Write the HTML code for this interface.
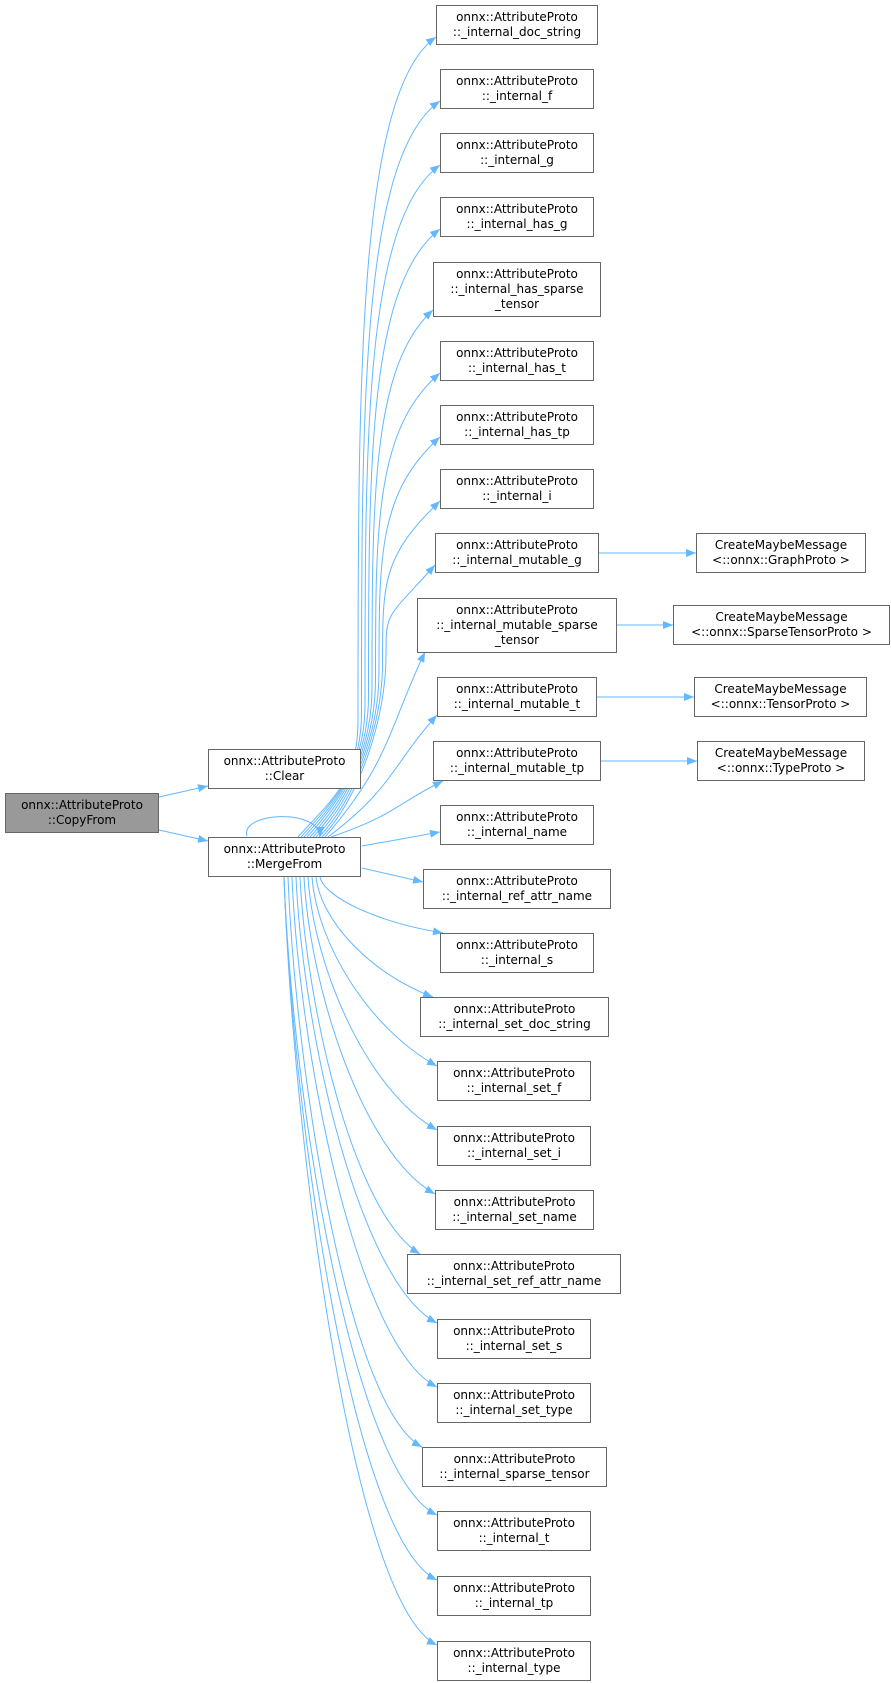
<!DOCTYPE html>
<html><head><meta charset="utf-8"><style>
body{margin:0;background:#fff;}
#c{position:relative;width:891px;height:1683px;overflow:hidden;background:#fff;}
.n{position:absolute;box-sizing:border-box;border:1px solid #666;background:#fff;display:flex;flex-direction:column;justify-content:center;align-items:center;font-family:"DejaVu Sans","Liberation Sans",sans-serif;font-size:12px;line-height:15px;color:#000;text-align:center;white-space:nowrap;}
.g{background:#999;}
svg{position:absolute;left:0;top:0;}
</style></head><body><div id="c">
<svg id="s" width="891" height="1683" viewBox="0 0 891 1683">
<defs><marker id="a" markerWidth="10" markerHeight="8" refX="10" refY="4" orient="auto" markerUnits="userSpaceOnUse"><path d="M0,0 L10,4 L0,8 z" fill="#63b8ff"/></marker></defs>
<g id="e" fill="none" stroke="#63b8ff" stroke-width="1" marker-end="url(#a)">
<path d="M159,797 L208,786"/>
<path d="M159,830 L208,841"/>
<path d="M247,836 C240,812 320,808 320,837"/>
<path d="M599,553 L696,553"/>
<path d="M617,625 L673,625"/>
<path d="M597,697 L694,697"/>
<path d="M601,761 L697,761"/>
<path d="M362,846 L440,832"/>
<path d="M362,868 L423,882"/>
</g></svg>
<div class="n" style="left:436px;top:5px;width:162px;height:40px">onnx::AttributeProto<br>::_internal_doc_string</div>
<div class="n" style="left:440px;top:69px;width:154px;height:40px">onnx::AttributeProto<br>::_internal_f</div>
<div class="n" style="left:440px;top:133px;width:154px;height:40px">onnx::AttributeProto<br>::_internal_g</div>
<div class="n" style="left:440px;top:197px;width:154px;height:40px">onnx::AttributeProto<br>::_internal_has_g</div>
<div class="n" style="left:433px;top:262px;width:168px;height:55px">onnx::AttributeProto<br>::_internal_has_sparse<br>_tensor</div>
<div class="n" style="left:440px;top:341px;width:154px;height:40px">onnx::AttributeProto<br>::_internal_has_t</div>
<div class="n" style="left:440px;top:405px;width:154px;height:40px">onnx::AttributeProto<br>::_internal_has_tp</div>
<div class="n" style="left:440px;top:469px;width:154px;height:40px">onnx::AttributeProto<br>::_internal_i</div>
<div class="n" style="left:435px;top:533px;width:164px;height:40px">onnx::AttributeProto<br>::_internal_mutable_g</div>
<div class="n" style="left:696px;top:533px;width:170px;height:40px">CreateMaybeMessage<br>&lt;::onnx::GraphProto &gt;</div>
<div class="n" style="left:417px;top:598px;width:200px;height:55px">onnx::AttributeProto<br>::_internal_mutable_sparse<br>_tensor</div>
<div class="n" style="left:673px;top:605px;width:217px;height:40px">CreateMaybeMessage<br>&lt;::onnx::SparseTensorProto &gt;</div>
<div class="n" style="left:437px;top:677px;width:160px;height:40px">onnx::AttributeProto<br>::_internal_mutable_t</div>
<div class="n" style="left:694px;top:677px;width:173px;height:40px">CreateMaybeMessage<br>&lt;::onnx::TensorProto &gt;</div>
<div class="n" style="left:433px;top:741px;width:168px;height:40px">onnx::AttributeProto<br>::_internal_mutable_tp</div>
<div class="n" style="left:697px;top:741px;width:168px;height:40px">CreateMaybeMessage<br>&lt;::onnx::TypeProto &gt;</div>
<div class="n" style="left:208px;top:749px;width:153px;height:40px">onnx::AttributeProto<br>::Clear</div>
<div class="n g" style="left:5px;top:793px;width:154px;height:40px">onnx::AttributeProto<br>::CopyFrom</div>
<div class="n" style="left:208px;top:837px;width:153px;height:40px">onnx::AttributeProto<br>::MergeFrom</div>
<div class="n" style="left:440px;top:805px;width:154px;height:40px">onnx::AttributeProto<br>::_internal_name</div>
<div class="n" style="left:423px;top:869px;width:188px;height:40px">onnx::AttributeProto<br>::_internal_ref_attr_name</div>
<div class="n" style="left:440px;top:933px;width:154px;height:40px">onnx::AttributeProto<br>::_internal_s</div>
<div class="n" style="left:420px;top:997px;width:189px;height:40px">onnx::AttributeProto<br>::_internal_set_doc_string</div>
<div class="n" style="left:437px;top:1061px;width:154px;height:40px">onnx::AttributeProto<br>::_internal_set_f</div>
<div class="n" style="left:437px;top:1126px;width:154px;height:40px">onnx::AttributeProto<br>::_internal_set_i</div>
<div class="n" style="left:435px;top:1190px;width:159px;height:40px">onnx::AttributeProto<br>::_internal_set_name</div>
<div class="n" style="left:407px;top:1254px;width:214px;height:40px">onnx::AttributeProto<br>::_internal_set_ref_attr_name</div>
<div class="n" style="left:437px;top:1319px;width:154px;height:40px">onnx::AttributeProto<br>::_internal_set_s</div>
<div class="n" style="left:437px;top:1383px;width:154px;height:40px">onnx::AttributeProto<br>::_internal_set_type</div>
<div class="n" style="left:422px;top:1447px;width:185px;height:40px">onnx::AttributeProto<br>::_internal_sparse_tensor</div>
<div class="n" style="left:437px;top:1511px;width:154px;height:40px">onnx::AttributeProto<br>::_internal_t</div>
<div class="n" style="left:437px;top:1576px;width:154px;height:40px">onnx::AttributeProto<br>::_internal_tp</div>
<div class="n" style="left:437px;top:1641px;width:154px;height:40px">onnx::AttributeProto<br>::_internal_type</div>
</div>
<script>
var g=document.getElementById('e'),ns='http://www.w3.org/2000/svg';
function p(d){var e=document.createElementNS(ns,'path');e.setAttribute('d',d);g.appendChild(e);}
var up=[[436,37],[440,101],[440,165],[440,229],[433,310],[440,373],[440,437],[440,501],[435,565],[425,652],[437,715],[443,781]];
up.forEach(function(t,i){var xs=298+i*3,tx=t[0],ty=t[1],d=837-ty,cx=358+i*3.5;
 if(ty<600){
  var jy=720-i*8;
  p('M'+xs+',837 C'+(xs+(cx-xs)*0.6)+','+(837-40)+' '+cx+','+(jy+60)+' '+cx+','+jy+' C'+cx+','+(jy-(jy-ty)*0.5)+' '+cx+','+(ty+55)+' '+tx+','+ty);
 } else {
  var p1y=837-d*0.4,p2y=ty+d*0.4;
  p('M'+xs+',837 C'+cx+','+p1y+' '+cx+','+p2y+' '+tx+','+ty);
 }});
var lo=[[443,933],[433,997],[437,1066],[437,1130],[435,1194],[420,1254],[437,1323],[437,1387],[422,1447],[437,1515],[437,1580],[437,1645]];
lo.forEach(function(t,i){var xs=Math.max(284,320-i*4),tx=t[0],ty=t[1],d=ty-877;
 var p1x=xs+4+i*0.5,p1y=877+d*0.35,p2x=xs+(tx-xs)*0.45,p2y=ty-Math.min(40,d*0.2);
 p('M'+xs+',877 C'+p1x+','+p1y+' '+p2x+','+p2y+' '+tx+','+ty);});
</script>
</body></html>
